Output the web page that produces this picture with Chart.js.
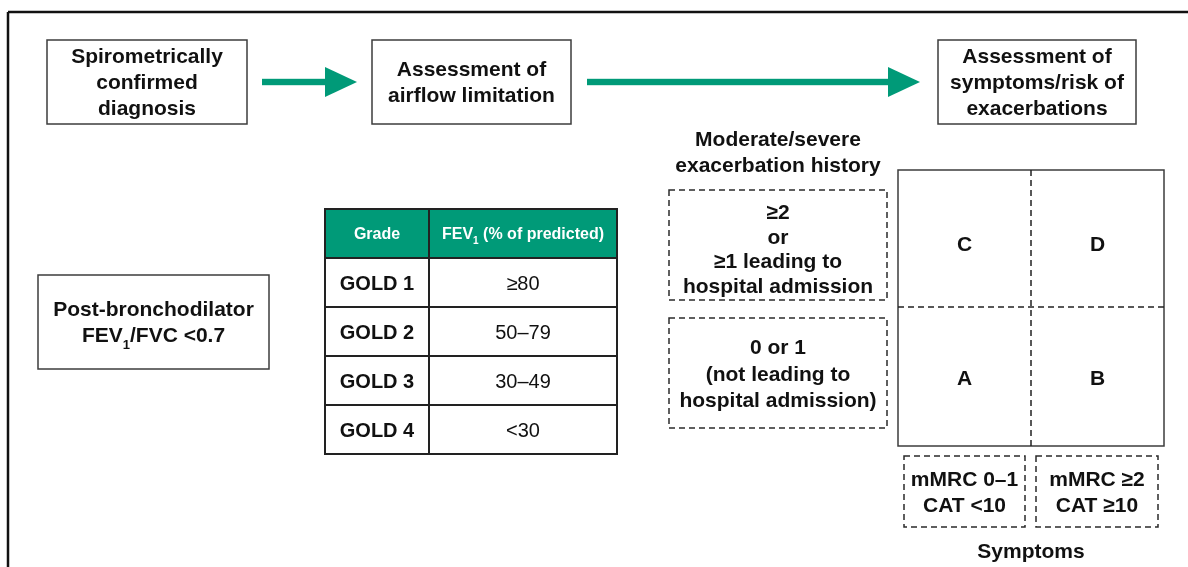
<!DOCTYPE html>
<html>
<head>
<meta charset="utf-8">
<script src="https://cdn.jsdelivr.net/npm/chart.js@4"></script>
<style>
  html, body { margin: 0; padding: 0; background: #fff; }
  #wrap { width: 1188px; height: 567px; position: relative; }
</style>
</head>
<body>
<div id="wrap"><canvas id="c"></canvas></div>
<script>
// --- content ---
const flowSteps = [
  ['Spirometrically', 'confirmed', 'diagnosis'],
  ['Assessment of', 'airflow limitation'],
  ['Assessment of', 'symptoms/risk of', 'exacerbations'],
];
const diagnosisCriterion = ['Post-bronchodilator', 'FEV_1/FVC <0.7'];
const tableHeader = ['Grade', 'FEV_1 (% of predicted)'];
const gradeLabels = ['GOLD 1', 'GOLD 2', 'GOLD 3', 'GOLD 4'];
const fevRanges = ['≥80', '50–79', '30–49', '<30'];
const riskTitle = ['Moderate/severe', 'exacerbation history'];
const riskLevels = [
  ['≥2', 'or', '≥1 leading to', 'hospital admission'],
  ['0 or 1', '(not leading to', 'hospital admission)'],
];
const symptomTitle = 'Symptoms';
const symptomLevels = [['mMRC 0–1', 'CAT <10'], ['mMRC ≥2', 'CAT ≥10']];
// groups: symptom column (0 low, 1 high), risk row (0 high, 1 low)
const groupNames = ['C', 'D', 'A', 'B'];
const groupSymptom = [0, 1, 0, 1];
const groupRisk = [0, 0, 1, 1];

// --- layout in scale units (x 0..1188, y 0..567 top-down) ---
const TEAL = '#009a78';
const INK = '#111';
const EDGE = '#3c3c3c';
const FONT = "'Liberation Sans', Arial, sans-serif";
const NUDGE = 1.5; // 'middle' baseline sits a little high for this face
const L = {
  frame: { x: 8, y: 12 },
  steps: [
    { x0: 47, x1: 247, y0: 40, y1: 124 },
    { x0: 372, x1: 571, y0: 40, y1: 124 },
    { x0: 938, x1: 1136, y0: 40, y1: 124 },
  ],
  arrows: [{ x0: 262, x1: 357, y: 82 }, { x0: 587, x1: 920, y: 82 }],
  diag: { x0: 38, x1: 269, y0: 275, y1: 369 },
  table: { x0: 325, x1: 617, xSplit: 429, y0: 209, head: 258, rowH: 49 },
  riskTitle: { cx: 778, cy: 152 },
  riskBoxes: [
    { x0: 669, x1: 887, y0: 190, y1: 300, lh: 24.5, cy: 248.5 },
    { x0: 669, x1: 887, y0: 318, y1: 428, lh: 26.5, cy: 373.5 },
  ],
  grid: { x0: 898, x1: 1164, y0: 170, y1: 446, xm: 1031, ym: 307, rows: [244, 378] },
  symBoxes: [
    { x0: 904, x1: 1025, y0: 456, y1: 527 },
    { x0: 1036, x1: 1158, y0: 456, y1: 527 },
  ],
  symTitle: { cx: 1031, cy: 551 },
};

// text with "_1" subscript marker
function drawRich(ctx, str, cx, cy, size, weight, color) {
  const parts = str.split('_1');
  const main = `${weight} ${size}px ${FONT}`;
  const sub = `${weight} ${Math.round(size * 0.6)}px ${FONT}`;
  ctx.font = main; const w0 = ctx.measureText(parts[0]).width;
  let w1 = 0, w2 = 0;
  if (parts.length > 1) {
    ctx.font = sub; w1 = ctx.measureText('1').width;
    ctx.font = main; w2 = ctx.measureText(parts[1]).width;
  }
  let x = cx - (w0 + w1 + w2) / 2;
  ctx.fillStyle = color; ctx.textAlign = 'left'; ctx.textBaseline = 'middle';
  ctx.font = main; ctx.fillText(parts[0], x, cy); x += w0;
  if (parts.length > 1) {
    ctx.font = sub; ctx.fillText('1', x, cy + size * 0.42); x += w1;
    ctx.font = main; ctx.fillText(parts[1], x, cy);
  }
}

const diagramPlugin = {
  id: 'diagram',
  afterDraw(chart) {
    const { ctx } = chart;
    const sx = v => chart.scales.x.getPixelForValue(v);
    const sy = v => chart.scales.y.getPixelForValue(v);
    const rect = (b, stroke, lw, dash, fill) => {
      const x = sx(b.x0), y = sy(b.y0), w = sx(b.x1) - x, h = sy(b.y1) - y;
      if (fill) { ctx.fillStyle = fill; ctx.fillRect(x, y, w, h); }
      ctx.setLineDash(dash || []); ctx.strokeStyle = stroke; ctx.lineWidth = lw;
      ctx.strokeRect(x, y, w, h); ctx.setLineDash([]);
    };
    const line = (x0, y0, x1, y1, stroke, lw, dash) => {
      ctx.setLineDash(dash || []); ctx.strokeStyle = stroke; ctx.lineWidth = lw;
      ctx.beginPath(); ctx.moveTo(sx(x0), sy(y0)); ctx.lineTo(sx(x1), sy(y1)); ctx.stroke();
      ctx.setLineDash([]);
    };
    const lines = (arr, cx, cy, lh, size, weight, color) => {
      arr.forEach((t, i) => drawRich(ctx, t, sx(cx), sy(cy + NUDGE + (i - (arr.length - 1) / 2) * lh), size, weight || 'bold', color || INK));
    };
    const DASH = [6, 4];

    ctx.save();
    // outer frame (top + left only)
    line(L.frame.x, L.frame.y, 1188, L.frame.y, INK, 2.5);
    line(L.frame.x, L.frame.y, L.frame.x, 567, INK, 2.5);

    // flow boxes + arrows
    flowSteps.forEach((txt, i) => {
      const b = L.steps[i];
      rect(b, EDGE, 1.5);
      lines(txt, (b.x0 + b.x1) / 2, (b.y0 + b.y1) / 2, 26, 21);
    });
    L.arrows.forEach(a => {
      const head = 32, hh = 15, sh = 3.2;
      ctx.fillStyle = TEAL;
      ctx.fillRect(sx(a.x0), sy(a.y - sh), sx(a.x1 - head) - sx(a.x0) + 1, sy(a.y + sh) - sy(a.y - sh));
      ctx.beginPath();
      ctx.moveTo(sx(a.x1 - head), sy(a.y - hh));
      ctx.lineTo(sx(a.x1), sy(a.y));
      ctx.lineTo(sx(a.x1 - head), sy(a.y + hh));
      ctx.closePath(); ctx.fill();
    });

    // diagnostic criterion box
    const d = L.diag;
    rect(d, EDGE, 1.5);
    lines(diagnosisCriterion, (d.x0 + d.x1) / 2, (d.y0 + d.y1) / 2, 26, 21);

    // GOLD grade table
    const t = L.table;
    const yEnd = t.head + gradeLabels.length * t.rowH;
    ctx.fillStyle = TEAL;
    ctx.fillRect(sx(t.x0), sy(t.y0), sx(t.x1) - sx(t.x0), sy(t.head) - sy(t.y0));
    lines([tableHeader[0]], (t.x0 + t.xSplit) / 2, (t.y0 + t.head) / 2, 0, 16, 'bold', '#fff');
    lines([tableHeader[1]], (t.xSplit + t.x1) / 2, (t.y0 + t.head) / 2, 0, 16, 'bold', '#fff');
    gradeLabels.forEach((g, i) => {
      const cy = t.head + (i + 0.5) * t.rowH;
      lines([g], (t.x0 + t.xSplit) / 2, cy, 0, 20, 'bold');
      lines([fevRanges[i]], (t.xSplit + t.x1) / 2, cy, 0, 20, 'normal');
      line(t.x0, t.head + i * t.rowH, t.x1, t.head + i * t.rowH, '#222', 2);
    });
    rect({ x0: t.x0, x1: t.x1, y0: t.y0, y1: yEnd }, '#222', 2);
    line(t.xSplit, t.y0, t.xSplit, yEnd, '#222', 2);

    // risk axis
    lines(riskTitle, L.riskTitle.cx, L.riskTitle.cy, 26, 21);
    riskLevels.forEach((txt, i) => {
      const b = L.riskBoxes[i];
      rect(b, '#2a2a2a', 1.5, DASH);
      lines(txt, (b.x0 + b.x1) / 2, b.cy, b.lh, 21);
    });

    // ABCD grid
    const g = L.grid;
    rect(g, EDGE, 1.5);
    line(g.xm, g.y0, g.xm, g.y1, '#222', 1.5, DASH);
    line(g.x0, g.ym, g.x1, g.ym, '#222', 1.5, DASH);
    const colC = [(g.x0 + g.xm) / 2, (g.xm + g.x1) / 2];
    groupNames.forEach((n, i) => {
      lines([n], colC[groupSymptom[i]], g.rows[groupRisk[i]], 0, 21);
    });

    // symptom axis
    symptomLevels.forEach((txt, i) => {
      const b = L.symBoxes[i];
      rect(b, '#2a2a2a', 1.5, DASH);
      lines(txt, (b.x0 + b.x1) / 2, (b.y0 + b.y1) / 2, 26, 21);
    });
    lines([symptomTitle], L.symTitle.cx, L.symTitle.cy, 26, 21);
    ctx.restore();
  },
};

new Chart(document.getElementById('c'), {
  type: 'scatter',
  plugins: [diagramPlugin],
  data: { datasets: [{ data: [], pointRadius: 0 }] },
  options: {
    responsive: true, maintainAspectRatio: false, animation: false,
    layout: { padding: 0 },
    plugins: { legend: { display: false }, tooltip: { enabled: false } },
    scales: {
      x: { type: 'linear', min: 0, max: 1188, display: false },
      y: { type: 'linear', min: 0, max: 567, reverse: true, display: false },
    },
  },
});
</script>
</body>
</html>
